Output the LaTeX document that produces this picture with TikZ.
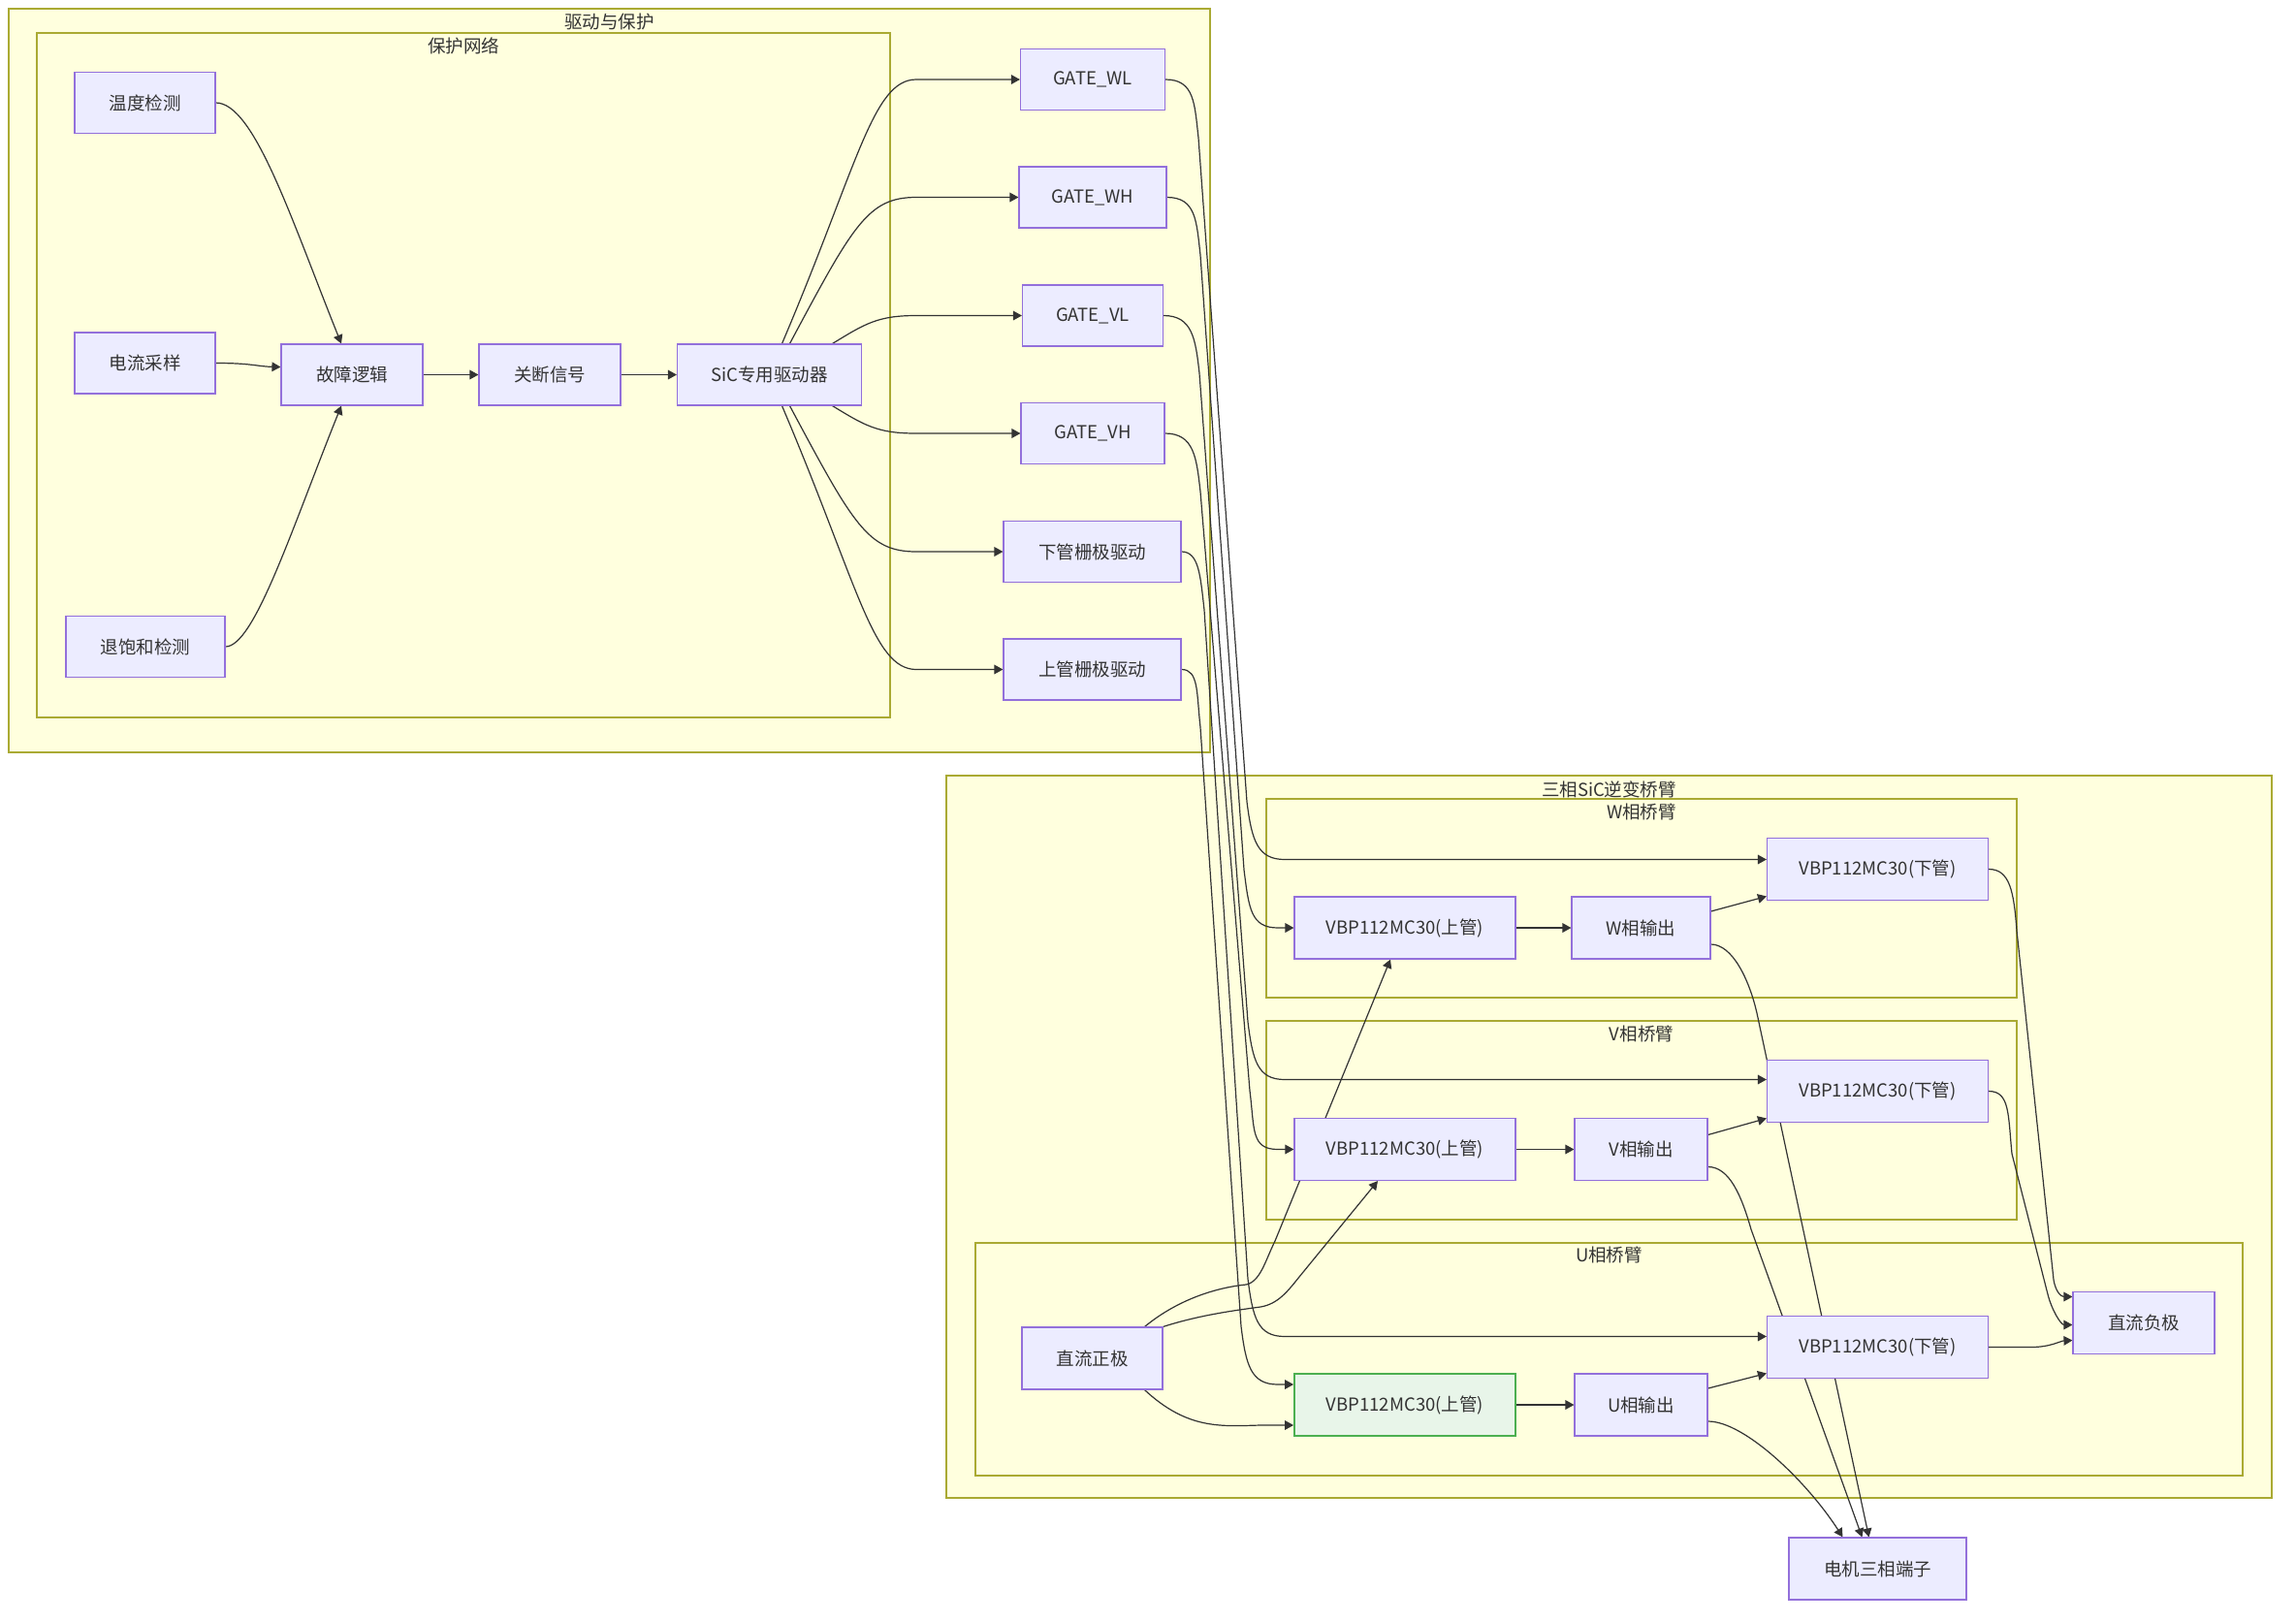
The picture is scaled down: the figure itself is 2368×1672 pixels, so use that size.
\documentclass[tikz,border=0pt]{standalone}
\usepackage{fontspec}
\setmainfont{Noto Sans CJK SC}
\usetikzlibrary{arrows.meta,calc}
\definecolor{nodefill}{HTML}{ECECFF}
\definecolor{nodeborder}{HTML}{9370DB}
\definecolor{clusterfill}{HTML}{FFFFDE}
\definecolor{clusterborder}{HTML}{AAAA33}
\definecolor{edgec}{HTML}{333333}
\definecolor{textc}{HTML}{333333}
\definecolor{greenfill}{HTML}{E8F5E9}
\definecolor{greenborder}{HTML}{4CAF50}
\pgfdeclarelayer{bg}
\pgfdeclarelayer{edgelayer}
\pgfsetlayers{bg,edgelayer,main}
\newcommand{\dfont}{\fontsize{9.25pt}{11pt}\selectfont}
\tikzset{
  box/.style={draw=nodeborder, fill=nodefill, line width=0.55pt, inner sep=0pt, text=textc, font=\dfont, minimum height=31.5pt},
  greenbox/.style={box, draw=greenborder, fill=greenfill, line width=0.9pt},
  cluster/.style={draw=clusterborder, fill=clusterfill, line width=0.55pt},
  ctitle/.style={inner sep=0pt, text=textc, font=\dfont},
  edge/.style={draw=edgec, line width=0.6pt, -{Triangle[length=4.5pt,width=4.8pt]}},
}
\begin{document}
\begin{tikzpicture}[x=0.5pt,y=-0.5pt]
\useasboundingbox (0,0) rectangle (2368,1672);

% ---------------- nodes ----------------
\node[box, minimum width=72.5pt] (temp) at (149.5,106) {温度检测};
\node[box, minimum width=72.5pt] (curr) at (149.5,374.5) {电流采样};
\node[box, minimum width=82pt] (desat) at (150,667) {退饱和检测};
\node[box, minimum width=73pt] (fault) at (363,386.5) {故障逻辑};
\node[box, minimum width=73pt] (shut) at (567,386.5) {关断信号};
\node[box, minimum width=95pt] (drv) at (793.5,386.5) {SiC专用驱动器};

\node[box, minimum width=74.5pt] (gwl) at (1127,82) {GATE\_WL};
\node[box, minimum width=76pt] (gwh) at (1127,203.5) {GATE\_WH};
\node[box, minimum width=72.5pt] (gvl) at (1127,325.5) {GATE\_VL};
\node[box, minimum width=74pt] (gvh) at (1127,447) {GATE\_VH};
\node[box, minimum width=91.5pt] (glo) at (1126.5,569) {下管栅极驱动};
\node[box, minimum width=91.5pt] (ghi) at (1126.5,690.5) {上管栅极驱动};

\node[box, minimum width=114pt, minimum height=32pt] (wu) at (1449,957) {VBP112MC30(上管)};
\node[box, minimum width=71.5pt, minimum height=32pt] (wo) at (1692.5,957) {W相输出};
\node[box, minimum width=114pt, minimum height=32pt] (wl) at (1936.5,896.5) {VBP112MC30(下管)};
\node[box, minimum width=114pt, minimum height=32pt] (vu) at (1449,1185.5) {VBP112MC30(上管)};
\node[box, minimum width=68.5pt, minimum height=32pt] (vo) at (1692.5,1185.5) {V相输出};
\node[box, minimum width=114pt, minimum height=32pt] (vl) at (1936.5,1125.5) {VBP112MC30(下管)};
\node[greenbox, minimum width=114pt, minimum height=32pt] (uu) at (1449,1449) {VBP112MC30(上管)};
\node[box, minimum width=68.5pt, minimum height=32pt] (uo) at (1692.5,1449) {U相输出};
\node[box, minimum width=114pt, minimum height=32pt] (ul) at (1936.5,1389.5) {VBP112MC30(下管)};
\node[box, minimum width=72.5pt, minimum height=32pt] (dcp) at (1126.5,1401) {直流正极};
\node[box, minimum width=73pt, minimum height=32pt] (dcn) at (2211,1364.5) {直流负极};
\node[box, minimum width=91.5pt, minimum height=32pt] (motor) at (1936.5,1618) {电机三相端子};

% ---------------- clusters ----------------
\begin{pgfonlayer}{bg}
\fill[white] (0,0) rectangle (2368,1672);
\draw[cluster] (9,9) rectangle (1248,776);
\node[ctitle] (t1) at (628.5,22) {驱动与保护};
\draw[cluster] (38,34) rectangle (918,740);
\node[ctitle] (t2) at (478,47) {保护网络};
\draw[cluster] (976,800) rectangle (2343,1545);
\node[ctitle] (t3) at (1659.5,814) {三相SiC逆变桥臂};
\draw[cluster] (1306,824) rectangle (2080,1029);
\node[ctitle] (t4) at (1693,837) {W相桥臂};
\draw[cluster] (1306,1053) rectangle (2080,1258);
\node[ctitle] (t5) at (1693,1066) {V相桥臂};
\draw[cluster] (1006,1282) rectangle (2313,1522);
\node[ctitle] (t6) at (1659.5,1294) {U相桥臂};
\end{pgfonlayer}

% ---------------- edges ----------------
\begin{pgfonlayer}{edgelayer}
\draw[edge] (temp.east) .. controls (262,106) and (300,225) .. ($(fault.north)+(-11,0)$);
\draw[edge] (curr.east) .. controls (260,374.5) and (265,378) .. ($(fault.west)+(0,-8)$);
\draw[edge] (desat.east) .. controls (262,667) and (300,548) .. ($(fault.south)+(-11,0)$);
\draw[edge] (fault.east) -- (shut.west);
\draw[edge] (shut.east) -- (drv.west);

\draw[edge] ($(drv.north)+(13,0)$) .. controls (885,170) and (900,82) .. (945,82) -- (gwl.west);
\draw[edge] ($(drv.north)+(21,0)$) .. controls (880,232) and (895,203.5) .. (945,203.5) -- (gwh.west);
\draw[edge] ($(drv.north)+(65,0)$) .. controls (892,334) and (905,325.5) .. (945,325.5) -- (gvl.west);
\draw[edge] ($(drv.south)+(65,0)$) .. controls (892,439) and (905,447) .. (945,447) -- (gvh.west);
\draw[edge] ($(drv.south)+(21,0)$) .. controls (880,541) and (895,569) .. (945,569) -- (glo.west);
\draw[edge] ($(drv.south)+(13,0)$) .. controls (885,603) and (900,690.5) .. (945,690.5) -- (ghi.west);

\draw[edge] (gwl.east) .. controls +(30,0) and +(-4,-35) .. (1236,142) -- (1286,827) .. controls +(5,40) and +(-28,0) .. (1325,886.5) -- ($(wl.west)+(0,-10)$);
\draw[edge] (gwh.east) .. controls +(30,0) and +(-4,-35) .. (1238,263) -- (1283,897) .. controls +(5,40) and +(-28,0) .. (1318,957) -- (wu.west);
\draw[edge] (gvl.east) .. controls +(30,0) and +(-4,-35) .. (1237,385) -- (1287,1054) .. controls +(5,40) and +(-28,0) .. (1325,1113.5) -- ($(vl.west)+(0,-12)$);
\draw[edge] (gvh.east) .. controls +(30,0) and +(-4,-35) .. (1238,507) -- (1289,1125) .. controls +(5,40) and +(-28,0) .. (1318,1185.5) -- (vu.west);
\draw[edge] (glo.east) .. controls +(18,0) and +(-4,-35) .. (1242,629) -- (1287,1319) .. controls +(5,40) and +(-28,0) .. (1325,1378.5) -- ($(ul.west)+(0,-11)$);
\draw[edge] (ghi.east) .. controls +(18,0) and +(-4,-35) .. (1238,750) -- (1280,1368) .. controls +(5,40) and +(-28,0) .. (1318,1428) -- ($(uu.west)+(0,-21)$);

\draw[edge] (wu.east) -- (wo.west);
\draw[edge] (vu.east) -- (vo.west);
\draw[edge] (uu.east) -- (uo.west);
\draw[edge] ($(wo.east)+(0,-17)$) -- ($(wl.west)+(0,28)$);
\draw[edge] ($(vo.east)+(0,-15)$) -- ($(vl.west)+(0,28)$);
\draw[edge] ($(uo.east)+(0,-17)$) -- ($(ul.west)+(0,27)$);

\draw[edge] ($(wo.east)+(0,17)$) .. controls +(22,0) and +(-8,-35) .. (1812,1045) -- ($(motor.north)+(-9,0)$);
\draw[edge] ($(vo.east)+(0,18)$) .. controls +(22,0) and +(-10,-35) .. (1806,1268) -- ($(motor.north)+(-16,0)$);
\draw[edge] ($(uo.east)+(0,17)$) .. controls (1800,1466) and (1865,1530) .. ($(motor.north)+(-36,0)$);

\draw[edge] (wl.east) .. controls +(22,0) and +(-3,-40) .. (2080,960) -- (2118,1320) .. controls +(2,12) and +(-12,0) .. ($(dcn.west)+(0,-27)$);
\draw[edge] (vl.east) .. controls +(22,0) and +(-4,-40) .. (2075,1190) -- (2112,1335) .. controls +(4,16) and +(-12,0) .. ($(dcn.west)+(0,2)$);
\draw[edge] (ul.east) -- (2095,1389.5) .. controls (2115,1389.5) and (2125,1383) .. ($(dcn.west)+(0,18)$);

\draw[edge] ($(dcp.north)+(54,0)$) .. controls (1215,1340) and (1255,1328) .. (1285,1325) .. controls (1300,1322) and (1305,1300) .. (1315,1280) -- ($(wu.south)+(-15,0)$);
\draw[edge] (dcp.north east) .. controls (1235,1357) and (1270,1352) .. (1300,1348) .. controls (1318,1345) and (1328,1332) .. (1340,1317) -- ($(vu.south)+(-28,0)$);
\draw[edge] ($(dcp.south)+(54,0)$) .. controls (1225,1475) and (1260,1471) .. (1300,1470) -- ($(uu.west)+(0,21)$);
\end{pgfonlayer}
\end{tikzpicture}
\end{document}
